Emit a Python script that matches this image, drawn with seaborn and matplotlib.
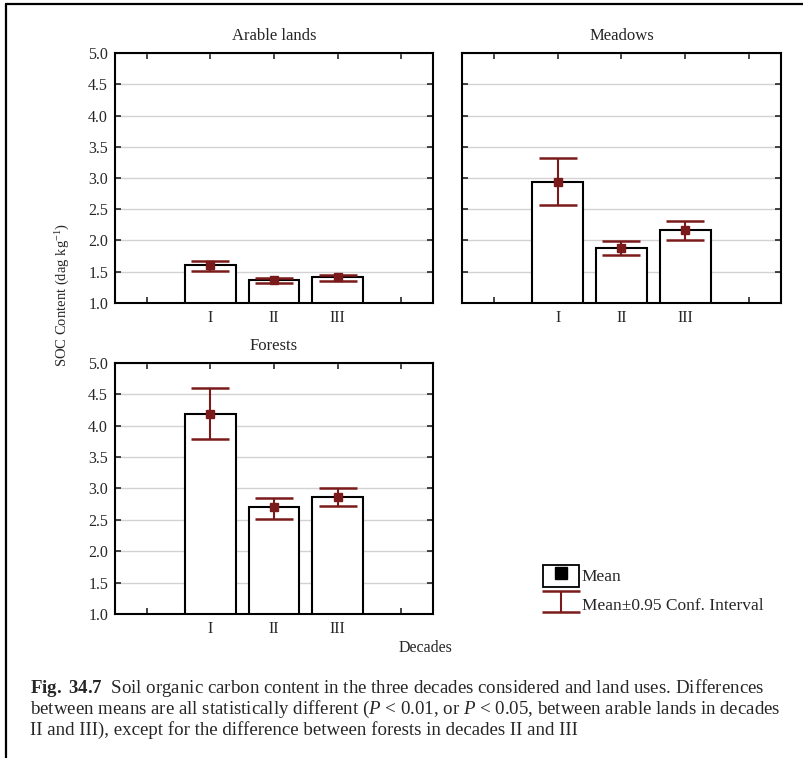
import matplotlib
matplotlib.use('Agg')
import matplotlib.pyplot as plt
from matplotlib.patches import Rectangle
from matplotlib.lines import Line2D
from matplotlib.container import ErrorbarContainer
from matplotlib.legend_handler import HandlerErrorbar, HandlerTuple
import pandas as pd
import seaborn as sns

# Values (SOC content, dag kg-1)
decades = ['I', 'II', 'III']
land_uses = ['Arable lands', 'Meadows', 'Forests']

arable_mean = [1.60, 1.36, 1.42]
arable_lo = [1.51, 1.32, 1.35]
arable_hi = [1.68, 1.40, 1.45]

meadows_mean = [2.94, 1.88, 2.17]
meadows_lo = [2.57, 1.77, 2.01]
meadows_hi = [3.32, 1.99, 2.31]

forests_mean = [4.18, 2.71, 2.86]
forests_lo = [3.79, 2.51, 2.72]
forests_hi = [4.60, 2.85, 3.01]

# empty slots either side of the three decades, as in the original
slots = ['', 'I', 'II', 'III', ' ']
yticks = [1.0, 1.5, 2.0, 2.5, 3.0, 3.5, 4.0, 4.5, 5.0]

caption = [
    r"$\mathbf{Fig.\ 34.7}$  Soil organic carbon content in the three decades considered and land uses. Differences",
    r"between means are all statistically different ($P$ < 0.01, or $P$ < 0.05, between arable lands in decades",
    r"II and III), except for the difference between forests in decades II and III",
]

W, H = 804, 758
RED = '#7a1a1a'
CAP = '#2e2e2e'


def build_frame():
    rows = []
    series = [(arable_mean, arable_lo, arable_hi),
              (meadows_mean, meadows_lo, meadows_hi),
              (forests_mean, forests_lo, forests_hi)]
    for land, (m, lo, hi) in zip(land_uses, series):
        for d, a, b, c in zip(decades, m, lo, hi):
            rows.append({'land': land, 'decade': d, 'mean': a, 'lo': b, 'hi': c})
    return pd.DataFrame(rows)


def add_axes(fig, left, top, right, bottom):
    """Axes placed in pixel coordinates of the 804x758 canvas."""
    return fig.add_axes([left / W, 1 - bottom / H, (right - left) / W, (bottom - top) / H])


def draw_panel(ax, sub, title, show_ylabels):
    sns.barplot(data=sub, x='decade', y='mean', order=slots, color='white',
                saturation=1, edgecolor='black', linewidth=1.5, width=0.8,
                errorbar=None, ax=ax, zorder=2)
    pos = [slots.index(d) for d in sub['decade']]
    yerr = [sub['mean'] - sub['lo'], sub['hi'] - sub['mean']]
    eb = ax.errorbar(pos, sub['mean'], yerr=yerr, fmt='none', ecolor=RED,
                     elinewidth=1.5, capsize=13.5, capthick=1.8, zorder=4)
    for cap in eb[1]:
        cap.set_color(CAP)
    ax.plot(pos, sub['mean'], 's', color=RED, markersize=6, zorder=5)

    ax.set_ylim(1.0, 5.0)
    ax.set_xlim(-0.5, 4.5)
    ax.set_yticks(yticks)
    ax.set_yticklabels([f'{v:.1f}' for v in yticks])
    ax.set_xlabel('')
    ax.set_ylabel('')
    ax.set_title(title, fontsize=12, pad=9)
    ax.yaxis.grid(True, color='#d2d2d2', linewidth=1)
    ax.set_axisbelow(True)
    ax.tick_params(direction='in', top=True, right=True, length=4, width=1.2,
                   labelsize=11.5, pad=5, labelleft=show_ylabels)
    for s in ax.spines.values():
        s.set_color('black')
        s.set_linewidth(1.5)
    return eb


def main():
    sns.set_style('ticks')
    plt.rcParams['font.family'] = ['Liberation Serif', 'DejaVu Serif']
    plt.rcParams['mathtext.fontset'] = 'custom'
    plt.rcParams['mathtext.rm'] = 'Liberation Serif'
    plt.rcParams['mathtext.it'] = 'Liberation Serif:italic'
    plt.rcParams['mathtext.bf'] = 'Liberation Serif:bold'

    df = build_frame()
    fig = plt.figure(figsize=(W / 100, H / 100), dpi=100)

    boxes = {'Arable lands': (115, 53, 433, 303),
             'Meadows': (462, 53, 781, 303),
             'Forests': (115, 363, 433, 614)}
    eb = None
    for land in land_uses:
        ax = add_axes(fig, *boxes[land])
        eb = draw_panel(ax, df[df['land'] == land], land, land != 'Meadows')

    fig.text(63 / W, 1 - 295 / H, r'SOC Content (dag kg$^{-1}$)', rotation=90,
             ha='center', va='center', fontsize=10.5)
    fig.text(426 / W, 1 - 648 / H, 'Decades', ha='center', va='center', fontsize=11.5)

    mean_handle = (Rectangle((0, 0), 1, 1, facecolor='white', edgecolor='black', linewidth=1.3),
                   Line2D([], [], marker='s', color='black', linestyle='none', markersize=8))
    fig.legend(handles=[mean_handle, eb], labels=['Mean', 'Mean±0.95 Conf. Interval'],
               loc='upper left', bbox_to_anchor=(527 / W, 1 - 549 / H), frameon=False,
               fontsize=12.5, handlelength=2.1, handleheight=1.6, handletextpad=0.15,
               labelspacing=0.35,
               handler_map={tuple: HandlerTuple(ndivide=1, pad=0),
                            ErrorbarContainer: HandlerErrorbar(yerr_size=0.6)})

    for i, line in enumerate(caption):
        fig.text(30 / W, 1 - (688 + 21 * i) / H, line, ha='left', va='center', fontsize=13.6)

    # page frame (left and top edges visible in the scan)
    fig.add_artist(Line2D([6 / W, 6 / W], [0, 1 - 4 / H], transform=fig.transFigure,
                          color='black', linewidth=1.6))
    fig.add_artist(Line2D([6 / W, 1], [1 - 4 / H, 1 - 4 / H], transform=fig.transFigure,
                          color='black', linewidth=1.6))

    fig.savefig('out.png', dpi=100, facecolor='white')


if __name__ == '__main__':
    main()
